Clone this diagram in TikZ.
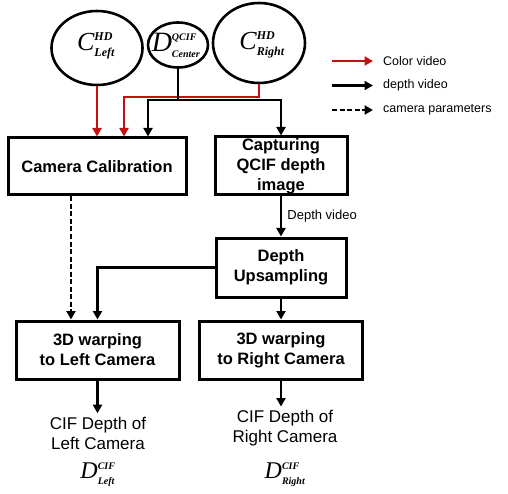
\documentclass[tikz,border=0pt]{standalone}
\usepackage{amsmath}
\usepackage{fontspec}
\setmainfont{Liberation Serif}
\setsansfont{Liberation Sans}
\usepackage{xcolor}
\usetikzlibrary{arrows.meta,shapes.geometric,positioning}
\definecolor{colred}{RGB}{196,16,16}
\newcommand{\vlab}[5]{\fontsize{#1}{#1}\selectfont$\textit{#2}^{\text{\fontsize{#5}{#5}\selectfont\bfseries\itshape #3}}_{\text{\fontsize{#5}{#5}\selectfont\bfseries\itshape #4}}$}

\begin{document}
\begin{tikzpicture}[x=1pt, y=-1pt, >={Triangle[length=8.5pt,width=9pt]},
  blk/.style={draw, line width=3pt, align=center, inner sep=0pt,
              font=\sffamily\bfseries\fontsize{16.5}{20}\selectfont},
  cam/.style={draw, ellipse, line width=2.6pt, inner sep=0pt},
  colarr/.style={->, line width=2.4pt, colred},
  deparr/.style={->, line width=2.2pt},
  pararr/.style={->, line width=2.2pt, dash pattern=on 5pt off 2.5pt},
  outtxt/.style={align=center, font=\sffamily\fontsize{17}{20}\selectfont},
  lgtxt/.style={anchor=west, inner sep=0pt, font=\sffamily\fontsize{12.5}{13}\selectfont}]
\useasboundingbox (0,0) rectangle (508,494);
\node[cam, minimum width=91pt, minimum height=74pt] (cl) at (97,48) {};
\node[cam, minimum width=60pt, minimum height=45pt] (dc) at (178,45) {};
\node[cam, minimum width=92pt, minimum height=80pt] (cr) at (259,43) {};
\node (cllab) at (96,46) {\vlab{26}{C}{HD}{Left}{12}};
\node (dclab) at (176,45) {\vlab{28}{D}{QCIF}{Center}{10}};
\node (crlab) at (262,45) {\vlab{26}{C}{HD}{Right}{12}};
\node[blk, minimum width=178pt, minimum height=57pt] (calib) at (97,166.5) {Camera Calibration};
\node[blk, minimum width=132pt, minimum height=58pt] (capt) at (281,166) {Capturing\\QCIF depth\\image};
\node[blk, minimum width=130pt, minimum height=59pt] (ups) at (281,267.5) {Depth\\Upsampling};
\node[blk, minimum width=163pt, minimum height=58pt] (wl) at (97.5,350) {3D warping\\to Left Camera};
\node[blk, minimum width=163pt, minimum height=58pt] (wr) at (281,350) {3D warping\\to Right Camera};
\node[outtxt] (outl) at (98,433) {CIF Depth of\\Left Camera};
\node[outtxt] (outr) at (285,428) {CIF Depth of\\Right Camera};
\node (dl) at (98,475) {\vlab{24}{D}{CIF}{Left}{10}};
\node (dr) at (285,475) {\vlab{24}{D}{CIF}{Right}{10}};
\coordinate (rbend) at (124,97);
\coordinate (dsplit) at (178,100);
\coordinate (kin) at (148,100);
\draw[colarr] (cl.south) -- (cl.south |- calib.north);
\draw[colarr] (cr.south) |- (rbend) -- (rbend |- calib.north);
\draw[deparr] (dc.south) -- (dsplit) -| (capt.north);
\draw[deparr] (dsplit) -- (kin) -- (kin |- calib.north);
\draw[deparr] (capt.south) -- node[right=2pt, font=\sffamily\fontsize{13}{13}\selectfont] (dvlab) {Depth video} (ups.north);
\draw[deparr] (ups.west) -| (wl.north);
\draw[pararr] ([xshift=-26pt]calib.south) -- ([xshift=-26pt]calib.south |- wl.north);
\draw[deparr] (ups.south) -- (wr.north);
\draw[deparr] (wl.south) -- (wl.south |- outl.north);
\draw[deparr] (wr.south) -- (wr.south |- outr.north);
\foreach \s/\t [count=\i] in {colarr/Color video, deparr/depth video, pararr/camera parameters} {
  \coordinate (lga\i) at (332,{61+24.5*(\i-1)});
  \coordinate (lgb\i) at (373,{61+24.5*(\i-1)});
  \draw[\s] (lga\i) -- (lgb\i);
  \node[lgtxt] (lgt\i) at (383,{61+24.5*(\i-1)}) {\t};
}
\end{tikzpicture}
\end{document}
